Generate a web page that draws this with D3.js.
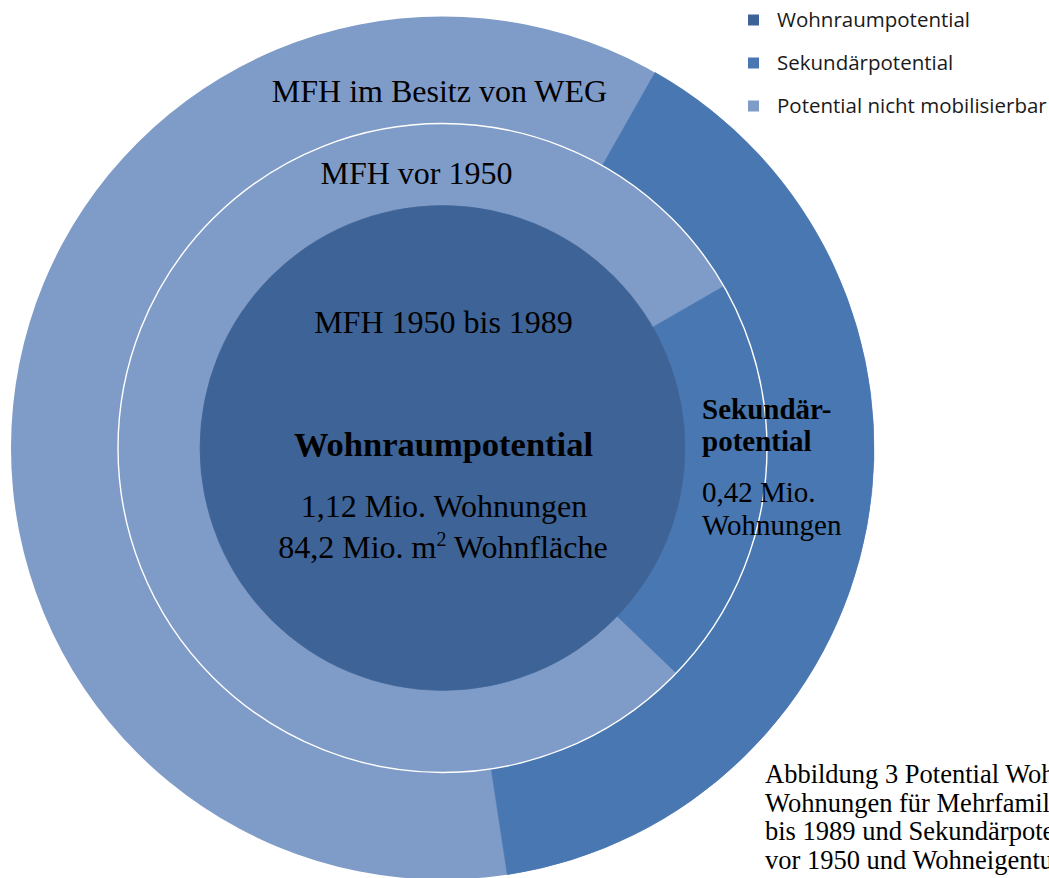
<!DOCTYPE html>
<meta charset="utf-8">
<style>

body {
  margin: 0;
  background: #fff;
  overflow: hidden;
}

.ring-label {
  font-family: "Liberation Serif", "Times New Roman", serif;
  fill: #000;
}

.legend text {
  font-family: "Open Sans", "Liberation Sans", sans-serif;
  font-size: 20.5px;
  fill: #1a1a1a;
}

</style>
<body>
<script src="https://cdn.jsdelivr.net/npm/d3@7/dist/d3.min.js"></script>
<script>

var w = 1049,
    h = 878,
    cx = 442.5,
    cy = 448;

// ring shares in percent, clockwise from 12 o'clock
var outerKeys = ["nicht", "sek", "nicht"],
    outerShares = [8.2, 39.4, 52.4];

var middleKeys = ["nicht", "sek", "nicht"],
    middleShares = [16.7, 20.5, 62.8];

var innerKeys = ["wohn"],
    innerShares = [100];

var legendLabels = ["Wohnraumpotential", "Sekundärpotential", "Potential nicht mobilisierbar"],
    legendKeys = ["wohn", "sek", "nicht"];

var captionLines = [
  "Abbildung 3 Potential Wohnraum",
  "Wohnungen für Mehrfamilienhäuser",
  "bis 1989 und Sekundärpotential",
  "vor 1950 und Wohneigentum"
];

var color = d3.scaleOrdinal()
    .domain(["wohn", "sek", "nicht"])
    .range(["#3e6396", "#4977b1", "#7f9bc8"]);

var rings = [
  {keys: outerKeys, shares: outerShares, inner: 324.5, outer: 431.5},
  {keys: middleKeys, shares: middleShares, inner: 242.5, outer: 324.5},
  {keys: innerKeys, shares: innerShares, inner: 0, outer: 242.5}
];

var svg = d3.select("body").append("svg")
    .attr("width", w)
    .attr("height", h);

var chart = svg.append("g")
    .attr("transform", "translate(" + cx + "," + cy + ")");

// base disc so no seam shows where same-coloured slices meet
chart.append("circle")
    .attr("r", 431.5)
    .attr("fill", color("nicht"));

var pie = d3.pie().sort(null).value(function(d) { return d.v; });

rings.forEach(function(r) {
  var arc = d3.arc().innerRadius(r.inner).outerRadius(r.outer);
  var data = r.shares.map(function(v, i) { return {v: v, key: r.keys[i]}; });
  chart.append("g").selectAll("path")
      .data(pie(data).filter(function(d) { return d.data.key !== "nicht"; }))
    .enter().append("path")
      .attr("d", arc)
      .attr("fill", function(d) { return color(d.data.key); })
      .attr("stroke", function(d) { return color(d.data.key); })
      .attr("stroke-width", 0.6);
});

// thin white border around the middle ring
chart.append("circle")
    .attr("r", 324.5)
    .attr("fill", "none")
    .attr("stroke", "#fff")
    .attr("stroke-width", 1.4);

// labels
var labels = [
  {text: "MFH im Besitz von WEG", x: 439.5, y: 102, size: 32, weight: "normal", anchor: "middle"},
  {text: "MFH vor 1950", x: 416.5, y: 184, size: 32, weight: "normal", anchor: "middle"},
  {text: "MFH 1950 bis 1989", x: 443.5, y: 333, size: 32, weight: "normal", anchor: "middle"},
  {text: "Wohnraumpotential", x: 443.5, y: 456, size: 34.5, weight: "bold", anchor: "middle"},
  {text: "1,12 Mio. Wohnungen", x: 444, y: 517, size: 32, weight: "normal", anchor: "middle"},
  {text: "Sekundär-", x: 702, y: 419, size: 29, weight: "bold", anchor: "start"},
  {text: "potential", x: 702, y: 451, size: 29, weight: "bold", anchor: "start"},
  {text: "0,42 Mio.", x: 702, y: 502, size: 29, weight: "normal", anchor: "start"},
  {text: "Wohnungen", x: 702, y: 535, size: 29, weight: "normal", anchor: "start"}
];

svg.selectAll("text.ring-label")
    .data(labels)
  .enter().append("text")
    .attr("class", "ring-label")
    .attr("x", function(d) { return d.x; })
    .attr("y", function(d) { return d.y; })
    .attr("text-anchor", function(d) { return d.anchor; })
    .style("font-size", function(d) { return d.size + "px"; })
    .style("font-weight", function(d) { return d.weight; })
    .text(function(d) { return d.text; });

var area = svg.append("text")
    .attr("class", "ring-label")
    .attr("x", 443)
    .attr("y", 558)
    .attr("text-anchor", "middle")
    .style("font-size", "32px");
area.append("tspan").text("84,2 Mio. m");
area.append("tspan").attr("dy", -12).style("font-size", "20px").text("2");
area.append("tspan").attr("dy", 12).text(" Wohnfläche");

// legend
var legend = svg.append("g")
    .attr("class", "legend")
  .selectAll("g")
    .data(legendLabels)
  .enter().append("g")
    .attr("transform", function(d, i) { return "translate(748," + (20 + i * 43) + ")"; });

legend.append("rect")
    .attr("x", 0)
    .attr("y", -5.5)
    .attr("width", 11)
    .attr("height", 11)
    .attr("fill", function(d, i) { return color(legendKeys[i]); });

legend.append("text")
    .attr("x", 29)
    .attr("y", 6.5)
    .text(function(d) { return d; });

// caption (cut off at the right edge, as in the source page)
svg.append("g").selectAll("text")
    .data(captionLines)
  .enter().append("text")
    .attr("class", "ring-label")
    .attr("x", 765)
    .attr("y", function(d, i) { return 783 + i * 28.5; })
    .style("font-size", "26.5px")
    .text(function(d) { return d; });

</script>
</body>
